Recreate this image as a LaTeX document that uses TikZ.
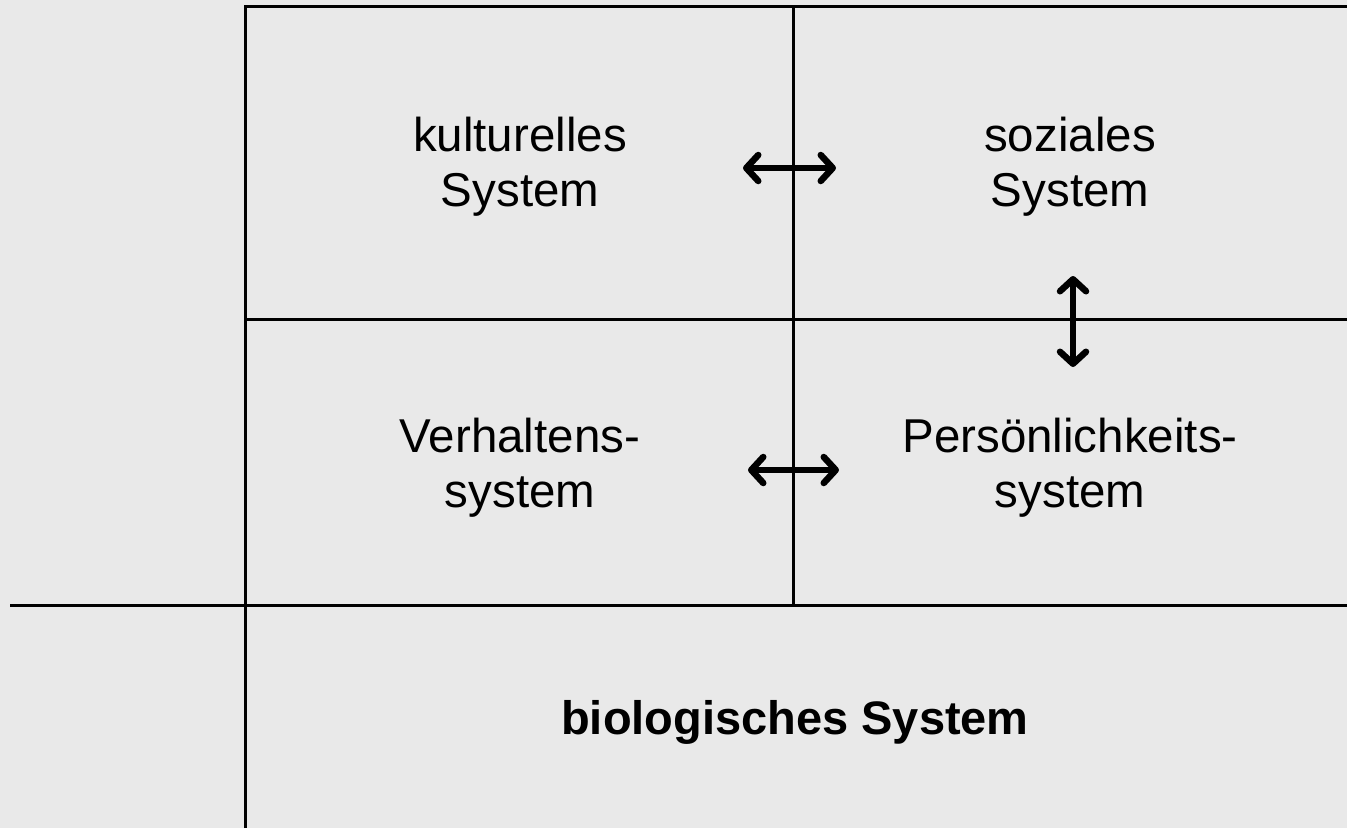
\documentclass[tikz,border=0pt]{standalone}
\usepackage{fontspec}
\setmainfont{Liberation Sans}
\usetikzlibrary{arrows.meta}
\definecolor{bg}{HTML}{E9E9E9}
\begin{document}
\begin{tikzpicture}[x=1pt,y=-1pt,
  frame/.style={line width=3pt,black},
  lbl/.style={align=center,font=\fontsize{47.5}{55}\selectfont,inner sep=0pt},
  dbl/.style={line width=6.5pt,line cap=round,{Straight Barb[length=12pt,width=26pt,line cap=round,line join=round]}-{Straight Barb[length=12pt,width=26pt,line cap=round,line join=round]}}]
\fill[bg] (0,0) rectangle (1347,828);
\useasboundingbox (0,0) rectangle (1347,828);
% frame lines
\draw[frame] (245,828) -- (245,6) -- (1347,6);
\draw[frame] (10,605) -- (1347,605);
\draw[frame] (245,319) -- (1347,319);
\draw[frame] (793,6) -- (793,605);
% labels
\node[lbl] (kult) at (520,167) {kulturelles\\System};
\node[lbl] (soz) at (1070,167) {soziales\\System};
\node[lbl] (verh) at (520,468) {Verhaltens-\\system};
\node[lbl] (pers) at (1070,468) {Persönlichkeits-\\system};
\node[lbl,font=\fontsize{47}{55}\selectfont\bfseries] (bio) at (795,722) {biologisches System};
% arrow anchors
\coordinate (a1) at (743,168);
\coordinate (a2) at (836,168);
\coordinate (b1) at (748,470);
\coordinate (b2) at (839,470);
\coordinate (c1) at (1073,276);
\coordinate (c2) at (1073,367);
\draw[dbl] (a1) -- (a2);
\draw[dbl] (b1) -- (b2);
\draw[dbl] (c1) -- (c2);
\end{tikzpicture}
\end{document}
